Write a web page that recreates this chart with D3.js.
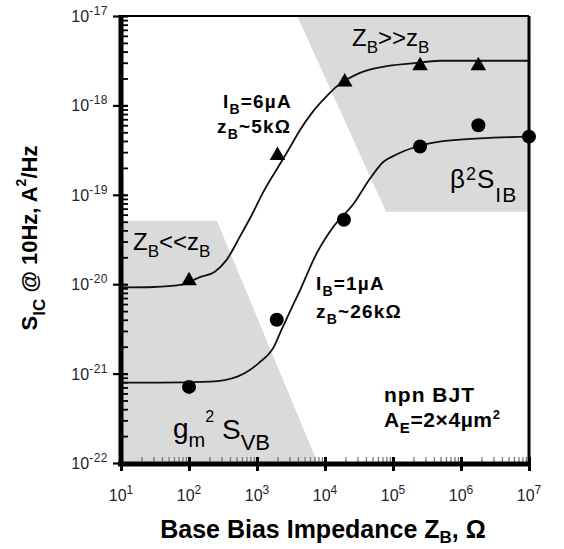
<!DOCTYPE html>
<html>
<head>
<meta charset="utf-8">
<script src="https://cdn.jsdelivr.net/npm/d3@7"></script>
<style>
  body { margin: 0; background: #fff; }
  svg { display: block; font-family: "Liberation Sans", Arial, sans-serif; }
</style>
</head>
<body>
<svg id="chart" width="564" height="549"></svg>
<script>
// measured points, IB = 6uA (triangles) and IB = 1uA (circles)
const triZ = [100, 2000, 19500, 250000, 1.8e6];
const triS = [1.09e-20, 2.75e-19, 1.83e-18, 2.77e-18, 2.77e-18];
const dotZ = [100, 1950, 19000, 250000, 1.8e6, 1e7];
const dotS = [7.1e-22, 4.0e-21, 5.25e-20, 3.47e-19, 6.0e-19, 4.47e-19];

// model curves
const fit6Z = [10, 30, 75, 145, 240, 355, 560, 870, 1175, 2200, 3100, 4250, 6300, 10500, 14800, 32000, 71000, 195000, 490000, 1e7];
const fit6S = [9.2e-21, 9.3e-21, 9.8e-21, 1.2e-20, 1.38e-20, 1.86e-20, 3.4e-20, 6.3e-20, 1.0e-19, 2.24e-19, 3.47e-19, 5.25e-19, 8.1e-19, 1.26e-18, 1.62e-18, 2.3e-18, 2.7e-18, 2.95e-18, 3.16e-18, 3.16e-18];
const fit1Z = [10, 37, 205, 525, 1070, 1740, 2290, 4270, 7600, 13200, 26300, 45700, 72400, 112000, 224000, 437000, 1.9e6, 1e7];
const fit1S = [7.94e-22, 7.94e-22, 8.13e-22, 9.33e-22, 1.32e-21, 1.95e-21, 3.09e-21, 8.5e-21, 2.24e-20, 4.37e-20, 7.94e-20, 1.51e-19, 2.34e-19, 2.82e-19, 3.47e-19, 3.89e-19, 4.27e-19, 4.47e-19];

// shaded regimes
const lowZ = [10, 257, 7800, 10];
const lowS = [5.13e-20, 5.13e-20, 1e-22, 1e-22];
const highZ = [3900, 1e7, 1e7, 79000];
const highS = [1e-17, 1e-17, 6.46e-20, 6.46e-20];

// axis decades (exponents)
const xExp = [1, 2, 3, 4, 5, 6, 7];
const yExp = [-22, -21, -20, -19, -18, -17];

const svg = d3.select("#chart");
const plotL = 121, plotR = 529, plotT = 16, plotB = 463;

const x = d3.scaleLog().domain([10, 1e7]).range([plotL, plotR]);
const y = d3.scaleLog().domain([1e-22, 1e-17]).range([plotB, plotT]);

const zip = (a, b) => a.map((v, i) => [v, b[i]]);
const line = d3.line().x(d => x(d[0])).y(d => y(d[1]));

// gray regions
[zip(lowZ, lowS), zip(highZ, highS)].forEach(poly => {
  svg.append("path")
    .attr("d", line(poly) + "Z")
    .attr("fill", "#dadada");
});

// minor tick values
function minors(exps) {
  const out = [];
  exps.slice(0, -1).forEach(e => {
    for (let k = 2; k <= 9; k++) out.push(k * Math.pow(10, e));
  });
  return out;
}
const xMajor = xExp.map(e => Math.pow(10, e));
const yMajor = yExp.map(e => Math.pow(10, e));

// left axis
const gl = svg.append("g").attr("transform", `translate(${plotL},0)`);
gl.append("g")
  .call(d3.axisLeft(y).tickValues(minors(yExp)).tickSize(-7).tickFormat(""))
  .call(g => g.select(".domain").remove())
  .selectAll("line").attr("stroke", "#000").attr("stroke-width", 1.8);
gl.append("g")
  .call(d3.axisLeft(y).tickValues(yMajor).tickSize(8).tickFormat(""))
  .call(g => g.select(".domain").remove())
  .selectAll("line").attr("x2", -8).attr("x1", 7).attr("stroke", "#000").attr("stroke-width", 2.2);

// bottom axis
const gb = svg.append("g").attr("transform", `translate(0,${plotB})`);
gb.append("g")
  .call(d3.axisBottom(x).tickValues(minors(xExp)).tickSize(-6).tickFormat(""))
  .call(g => g.select(".domain").remove())
  .selectAll("line").attr("stroke", "#777").attr("stroke-width", 1.3);
gb.append("g")
  .call(d3.axisBottom(x).tickValues(xMajor).tickSize(8).tickFormat(""))
  .call(g => g.select(".domain").remove())
  .selectAll("line").attr("y1", -6).attr("stroke", "#000").attr("stroke-width", 3);

// frame
svg.append("line").attr("x1", plotL).attr("x2", plotR).attr("y1", plotT).attr("y2", plotT)
  .attr("stroke", "#000").attr("stroke-width", 2.2);
svg.append("line").attr("x1", plotR).attr("x2", plotR).attr("y1", plotT).attr("y2", plotB)
  .attr("stroke", "#000").attr("stroke-width", 3);
svg.append("line").attr("x1", plotL).attr("x2", plotL).attr("y1", plotT - 1).attr("y2", plotB + 3)
  .attr("stroke", "#000").attr("stroke-width", 5);
svg.append("line").attr("x1", plotL - 3).attr("x2", plotR + 1).attr("y1", plotB + 1).attr("y2", plotB + 1)
  .attr("stroke", "#000").attr("stroke-width", 5);

// tick labels
yExp.forEach(e => {
  const t = svg.append("text")
    .attr("x", 108).attr("y", y(Math.pow(10, e)) + 6)
    .attr("text-anchor", "end").attr("fill", "#2a2230");
  t.append("tspan").attr("font-size", 16).text("10");
  t.append("tspan").attr("font-size", 12).attr("dy", -7).attr("letter-spacing", 0.5).text(e);
});
xExp.forEach(e => {
  const t = svg.append("text")
    .attr("x", x(Math.pow(10, e))).attr("y", 501)
    .attr("text-anchor", "middle").attr("fill", "#2a2230");
  t.append("tspan").attr("font-size", 16).text("10");
  t.append("tspan").attr("font-size", 12).attr("dy", -7).text(e);
});

// curves
[zip(fit6Z, fit6S), zip(fit1Z, fit1S)].forEach(pts => {
  svg.append("path")
    .attr("d", line.curve(d3.curveMonotoneX)(pts))
    .attr("fill", "none")
    .attr("stroke", "#111")
    .attr("stroke-width", 1.8);
});

// markers
svg.selectAll(".tri").data(zip(triZ, triS)).join("path")
  .attr("class", "tri")
  .attr("transform", d => `translate(${x(d[0])},${y(d[1])})`)
  .attr("d", d3.symbol(d3.symbolTriangle, 105))
  .attr("fill", "#000");
svg.selectAll(".dot").data(zip(dotZ, dotS)).join("circle")
  .attr("class", "dot")
  .attr("cx", d => x(d[0])).attr("cy", d => y(d[1]))
  .attr("r", 7)
  .attr("fill", "#000");

// text with sub/superscripts
function rich(px, py, size, weight, parts, anchor, spacing) {
  const t = svg.append("text")
    .attr("x", px).attr("y", py)
    .attr("font-size", size)
    .attr("font-weight", weight)
    .attr("text-anchor", anchor || "start")
    .attr("letter-spacing", spacing || 0)
    .attr("fill", "#000");
  let cur = 0;
  parts.forEach(p => {
    const off = p.off || 0;
    t.append("tspan")
      .attr("dy", off - cur)
      .attr("font-size", p.size || size)
      .text(p.t);
    cur = off;
  });
  return t;
}

rich(133, 250, 24, "normal", [{t: "Z"}, {t: "B", size: 17, off: 7}, {t: "<<z"}, {t: "B", size: 17, off: 7}]);
rich(352, 46, 24, "normal", [{t: "Z"}, {t: "B", size: 17, off: 7}, {t: ">>z"}, {t: "B", size: 17, off: 7}]);

rich(223, 108, 19, "bold", [{t: "I"}, {t: "B", size: 14, off: 6}, {t: "=6µA"}], null, 1.2);
rich(217, 133, 19, "bold", [{t: "z"}, {t: "B", size: 14, off: 6}, {t: "~5kΩ"}], null, 1.2);
rich(316, 290, 19, "bold", [{t: "I"}, {t: "B", size: 14, off: 6}, {t: "=1µA"}], null, 1.2);
rich(316, 318, 19, "bold", [{t: "z"}, {t: "B", size: 14, off: 6}, {t: "~26kΩ"}], null, 1.2);

rich(384, 402, 21, "bold", [{t: "npn BJT"}], null, 1);
rich(384, 427, 21, "bold", [{t: "A"}, {t: "E", size: 15, off: 6}, {t: "=2×4µm"}, {t: "2", size: 13, off: -8}], null, 0.6);

rich(450, 188, 26, "normal", [{t: "β"}, {t: "2", size: 18, off: -8}, {t: "S"}, {t: "IB", size: 21, off: 14}], null, 1);
rich(173, 438, 28, "normal", [{t: "g"}, {t: "m", size: 20, off: 9}, {t: "2", size: 16, off: -16}, {t: " S", off: 1}, {t: "VB", size: 22, off: 12}]);

// axis titles
rich(323, 538, 25, "bold", [{t: "Base Bias Impedance Z"}, {t: "B", size: 17, off: 5}, {t: ", Ω"}], "middle");
rich(0, 0, 22, "bold", [{t: "S"}, {t: "IC", size: 17, off: 8}, {t: " @ 10Hz, A"}, {t: "2", size: 14, off: -11}, {t: "/Hz"}], "middle")
  .attr("transform", "translate(37,238) rotate(-90)");
</script>
</body>
</html>
